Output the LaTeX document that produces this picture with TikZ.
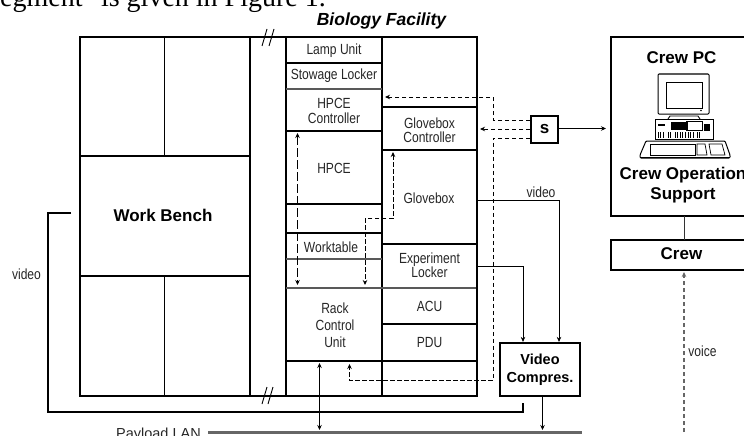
\documentclass[tikz,border=0pt]{standalone}
\usepackage{fontspec}
\setmainfont{Liberation Sans}
\newfontfamily\serifhead{Liberation Serif}
\newfontfamily\narrowsans[FakeStretch=0.82]{Liberation Sans}
\usetikzlibrary{arrows.meta}
\tikzset{
  thick box/.style={draw,line width=2.4pt,line join=miter},
  thickln/.style={line width=2pt},
  midln/.style={line width=1.7pt},
  greyln/.style={line width=1.5pt,draw=black!65},
  thinln/.style={line width=0.8pt,draw=black!80},
  lbl/.style={font=\narrowsans\fontsize{14.7}{14.5}\selectfont,align=center,inner sep=0pt,text=black!85},
  blbl/.style={font=\fontsize{17}{20}\selectfont\bfseries,align=center,inner sep=0pt},
  arr/.style={-{Stealth[length=5pt,width=4.5pt]},line width=0.8pt},
  darr/.style={{Stealth[length=5pt,width=4.5pt]}-{Stealth[length=5pt,width=4.5pt]},line width=0.8pt},
  dashln/.style={line width=0.9pt,dash pattern=on 4.5pt off 2.5pt},
}
\begin{document}
\begin{tikzpicture}[x=1pt,y=-1pt]
\useasboundingbox (0,0) rectangle (744,436);
\clip (0,0) rectangle (744,436);
% running text and title
\node[anchor=base west,inner sep=0pt,font=\serifhead\fontsize{28}{28}\selectfont] (para) at (0,7) {egment" is given in Figure 1.};
\node[anchor=center,inner sep=0pt,font=\fontsize{17.5}{20}\selectfont\bfseries\itshape] (title) at (381.5,20.5) {Biology Facility};
% facility frame
\draw[midln] (164.5,37) -- (164.5,156) (164.5,276) -- (164.5,396);
\draw[midln] (80,156) -- (250,156) (80,276) -- (250,276);
\draw[midln] (250,37) -- (250,396);
\draw[thickln] (286,37) -- (286,396) (382,37) -- (382,396);
% left rack column
\draw[midln] (286,63) -- (382,63) (286,131) -- (382,131) (286,204) -- (382,204) (286,233) -- (382,233) (286,361) -- (477,361);
\draw[greyln] (286,89) -- (382,89) (286,259) -- (382,259) (286,288) -- (477,288);
% right rack column
\draw[midln] (382,107) -- (477,107) (382,150) -- (477,150) (382,244) -- (477,244) (382,324) -- (477,324);
\draw[thick box] (80,37) rectangle (477,396);
% break marks
\draw[line width=0.9pt] (262,46) -- (267,29) (269,46) -- (274,29);
\draw[line width=0.9pt] (262,404) -- (267,387) (268,404) -- (273,387);
% labels
\node[blbl] (bench) at (163,215) {Work Bench};
\node[lbl] (lamp) at (334,50.5) {Lamp Unit};
\node[lbl] (stow) at (334,76) {Stowage Locker};
\node[lbl] (hctl) at (334,111) {HPCE\\Controller};
\node[lbl] (hpce) at (334,168) {HPCE};
\node[lbl] (work) at (331,247) {Worktable};
\node[lbl,font=\narrowsans\fontsize{14.7}{17}\selectfont] (rack) at (335,325) {Rack\\Control\\Unit};
\node[lbl] (gctl) at (429.5,130) {Glovebox\\Controller};
\node[lbl] (glove) at (429,198) {Glovebox};
\node[lbl] (exp) at (429.5,265) {Experiment\\Locker};
\node[lbl] (acu) at (429.5,306) {ACU};
\node[lbl] (pdu) at (429.5,343) {PDU};
% switch and compressor
\node[draw,line width=1.8pt,minimum width=27pt,minimum height=27pt,inner sep=0pt,font=\fontsize{17}{20}\selectfont\bfseries] (sw) at (544.5,129.5) {s};
\node[draw,line width=2.2pt,minimum width=80pt,minimum height=53pt,inner sep=0pt,align=center,font=\fontsize{14.5}{18}\selectfont\bfseries] (vc) at (540,369.5) {Video\\Compres.};
% crew PC and crew boxes, open at the page edge
\draw[thick box] (760,37) -- (611,37) -- (611,216) -- (760,216);
\draw[thick box] (760,240) -- (611,240) -- (611,270) -- (760,270);
\node[blbl] (pc) at (681.5,58) {Crew PC};
\node[blbl] (ops) at (683,185) {Crew Operation\\Support};
\node[blbl] (crew) at (681.5,253.5) {Crew};
% computer icon
\draw[line width=1pt,rounded corners=1pt] (658,74) rectangle (709,114);
\draw[line width=0.7pt] (666,82) rectangle (702,108);
\fill (701,110.5) circle (0.8pt);
\draw[line width=0.9pt] (668,119) -- (670,116) -- (698,116) -- (700,119);
\draw[line width=1pt] (655,119) rectangle (713,139);
\fill (658,124) rectangle (665,126);
\fill (671,122) rectangle (688,130);
\fill (704,124) rectangle (710,131);
\draw[line width=0.6pt] (686,121) rectangle (702,130);
\foreach \xx in {658,660.5,663,668,670.5,675,677.5,680,682.5,685,688,690.5,693,697,699.5}
  \draw[line width=1pt] (\xx,132) -- (\xx,138);
\draw[line width=1pt,rounded corners=1pt] (646,141) -- (725,141) -- (730,155) -- (730,158) -- (640,158) -- (640,155) -- cycle;
\draw[line width=0.7pt] (650,144) rectangle (695,155);
\draw[line width=0.7pt] (697,144) -- (705,144) -- (707,155) -- (697,155) -- cycle;
\draw[line width=0.7pt] (709,144) -- (722,144) -- (725,155) -- (711,155) -- cycle;
\draw[line width=1.8pt] (640,157.5) -- (730,157.5);
% connectors
\coordinate (s1) at (sw.west |- 0,120);
\coordinate (s2) at (sw.west |- 0,138);
\coordinate (d1) at (493,120);
\coordinate (d2) at (493,97);
\coordinate (hcIn) at (385,97);
\coordinate (gcIn) at (480,129);
\coordinate (d3) at (493,138);
\coordinate (d4) at (493,380.5);
\coordinate (d5) at (349.5,380.5);
\coordinate (rcIn) at (349.5,364);
\draw[dashln,-{Stealth[length=5pt,width=4.5pt]}] (s1) -- (d1) -- (d2) -- (hcIn);
\draw[dashln,-{Stealth[length=5pt,width=4.5pt]}] (sw.west |- gcIn) -- (gcIn);
\draw[dashln,-{Stealth[length=5pt,width=4.5pt]}] (s2) -- (d3) -- (d4) -- (d5) -- (rcIn);
\coordinate (pcIn) at (606,128.5);
\draw[arr] (sw.east |- pcIn) -- (pcIn);
% inside rack
\coordinate (a1) at (297.5,133);
\coordinate (a2) at (297.5,285);
\draw[line width=0.9pt,dash pattern=on 9pt off 3pt,{Stealth[length=5pt,width=4.5pt]}-{Stealth[length=5pt,width=4.5pt]}] (a1) -- (a2);
\coordinate (b1) at (393,152);
\coordinate (b2) at (393,218.5);
\coordinate (b3) at (365,218.5);
\coordinate (b4) at (365,285);
\draw[dashln,{Stealth[length=5pt,width=4.5pt]}-{Stealth[length=5pt,width=4.5pt]}] (b1) -- (b2) -- (b3) -- (b4);
% video lines
\coordinate (g1) at (477,200);
\coordinate (g2) at (559,200);
\coordinate (e1) at (477,266);
\coordinate (e2) at (523,266);
\draw[arr] (g1) -- (g2) -- (g2 |- vc.north);
\draw[arr] (e1) -- (e2) -- (e2 |- vc.north);
\node[lbl] (vid1) at (541,192.5) {video};
\node[lbl] (vid2) at (26.5,274.5) {video};
% thick video return
\coordinate (t1) at (71,213);
\coordinate (t2) at (47.5,213);
\coordinate (t3) at (47.5,412);
\coordinate (t4) at (523,412);
\coordinate (t5) at (523,403);
\draw[line width=2pt] (t1) -- (t2) -- (t3) -- (t4) -- (t5);
% LAN
\coordinate (lanL) at (208,432.5);
\coordinate (lanR) at (582,432.5);
\draw[line width=2.6pt,draw=black!60] (lanL) -- (lanR);
\node[anchor=base east,inner sep=0pt,text=black!85,font=\fontsize{14.5}{16}\selectfont] (lan) at (201,438) {Payload LAN};
\coordinate (r1) at (319.5,363);
\coordinate (r2) at (319.5,430);
\draw[darr] (r1) -- (r2);
\coordinate (vout) at (542.5,430);
\draw[arr] (vout |- vc.south) -- (vout);
% crew links
\coordinate (cA) at (684,216);
\coordinate (cB) at (684,240);
\draw[thinln] (cA) -- (cB);
\coordinate (vA) at (684,432);
\coordinate (vB) at (684,272);
\draw[line width=1.1pt,dash pattern=on 4.5pt off 2.5pt,draw=black!60,-{Stealth[length=5pt,width=4.5pt]}] (vA) -- (vB);
\node[lbl] (voice) at (702.5,351.5) {voice};
\end{tikzpicture}
\end{document}
